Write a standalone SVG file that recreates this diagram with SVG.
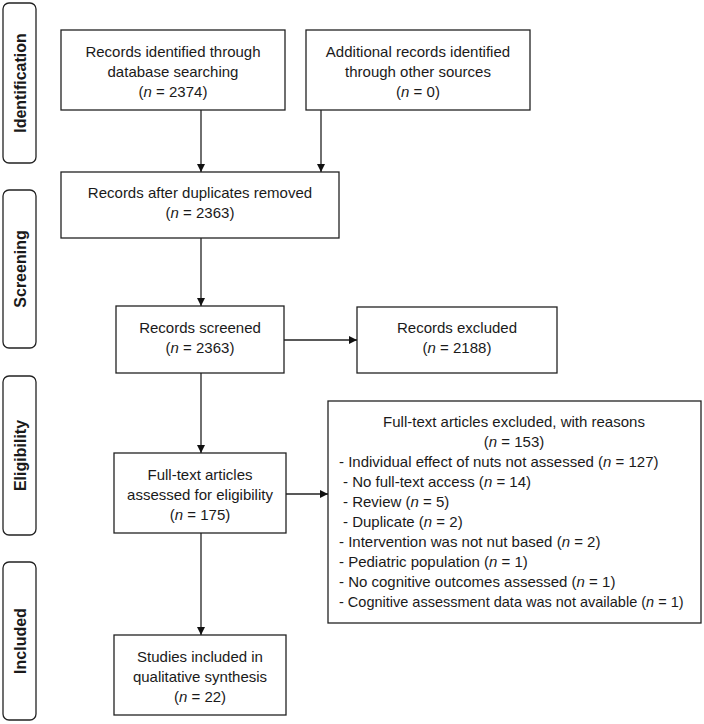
<svg xmlns="http://www.w3.org/2000/svg" width="704" height="724" viewBox="0 0 704 724">
<defs>
<style>
.box{fill:#fff;stroke:#222;stroke-width:1.3}
.lab{fill:#fff;stroke:#222;stroke-width:1.3}
.t{font-family:"Liberation Sans",Arial,sans-serif;font-size:15px;fill:#1a1a1a;text-anchor:middle}
.l{font-family:"Liberation Sans",Arial,sans-serif;font-size:15px;fill:#1a1a1a;text-anchor:start}
.s{font-family:"Liberation Sans",Arial,sans-serif;font-size:16px;font-weight:bold;fill:#1a1a1a;text-anchor:middle}
.c{stroke:#222;stroke-width:1.3;fill:none;marker-end:url(#ah)}
</style>
<marker id="ah" viewBox="0 0 10 10" refX="10" refY="5" markerWidth="8" markerHeight="8" markerUnits="userSpaceOnUse" orient="auto">
<path d="M0,0 L10,5 L0,10 z" fill="#111"/>
</marker>
</defs>
<rect width="704" height="724" fill="#fff"/>

<g id="stage-identification">
<rect class="lab" x="3" y="3" width="33" height="160" rx="6"/>
<text class="s" transform="translate(25.5,83) rotate(-90)">Identification</text>
</g>
<g id="stage-screening">
<rect class="lab" x="3" y="190" width="33" height="158" rx="6"/>
<text class="s" transform="translate(25.5,269) rotate(-90)">Screening</text>
</g>
<g id="stage-eligibility">
<rect class="lab" x="3" y="376" width="33" height="159" rx="6"/>
<text class="s" transform="translate(25.5,455.5) rotate(-90)">Eligibility</text>
</g>
<g id="stage-included">
<rect class="lab" x="3" y="562" width="33" height="158" rx="6"/>
<text class="s" transform="translate(25.5,641) rotate(-90)">Included</text>
</g>

<g id="n-database">
<rect class="box" x="61" y="30" width="224" height="80"/>
<text class="t" x="173" y="57">Records identified through</text>
<text class="t" x="173" y="77">database searching</text>
<text class="t" x="173" y="97">(<tspan font-style="italic">n</tspan> = 2374)</text>
</g>
<g id="n-other">
<rect class="box" x="306" y="30" width="224" height="80"/>
<text class="t" x="418" y="57">Additional records identified</text>
<text class="t" x="418" y="77">through other sources</text>
<text class="t" x="418" y="97">(<tspan font-style="italic">n</tspan> = 0)</text>
</g>
<g id="n-dedup">
<rect class="box" x="61" y="172" width="278" height="66"/>
<text class="t" x="200" y="198">Records after duplicates removed</text>
<text class="t" x="200" y="218">(<tspan font-style="italic">n</tspan> = 2363)</text>
</g>
<g id="n-screened">
<rect class="box" x="116" y="306" width="168" height="67"/>
<text class="t" x="200" y="333">Records screened</text>
<text class="t" x="200" y="353">(<tspan font-style="italic">n</tspan> = 2363)</text>
</g>
<g id="n-excluded">
<rect class="box" x="357" y="307" width="200" height="66"/>
<text class="t" x="457" y="333">Records excluded</text>
<text class="t" x="457" y="353">(<tspan font-style="italic">n</tspan> = 2188)</text>
</g>
<g id="n-fulltext">
<rect class="box" x="114" y="453" width="172" height="80"/>
<text class="t" x="200" y="480">Full-text articles</text>
<text class="t" x="200" y="500">assessed for eligibility</text>
<text class="t" x="200" y="520">(<tspan font-style="italic">n</tspan> = 175)</text>
</g>
<g id="n-ftexcluded">
<rect class="box" x="328" y="401" width="373" height="222"/>
<text class="t" x="514" y="427">Full-text articles excluded, with reasons</text>
<text class="t" x="514" y="447">(<tspan font-style="italic">n</tspan> = 153)</text>
<text class="l" x="339" y="467">- Individual effect of nuts not assessed (<tspan font-style="italic">n</tspan> = 127)</text>
<text class="l" x="343" y="487">- No full-text access (<tspan font-style="italic">n</tspan> = 14)</text>
<text class="l" x="343" y="507">- Review (<tspan font-style="italic">n</tspan> = 5)</text>
<text class="l" x="343" y="527">- Duplicate  (<tspan font-style="italic">n</tspan> = 2)</text>
<text class="l" x="339" y="547">- Intervention was not nut  based (<tspan font-style="italic">n</tspan> = 2)</text>
<text class="l" x="339" y="567">- Pediatric population (<tspan font-style="italic">n</tspan> = 1)</text>
<text class="l" x="339" y="587">- No cognitive  outcomes assessed (<tspan font-style="italic">n</tspan> = 1)</text>
<text class="l" x="339" y="607" style="font-size:14.5px">- Cognitive assessment data was not available  (<tspan font-style="italic">n</tspan> = 1)</text>
</g>
<g id="n-included">
<rect class="box" x="114" y="635" width="172" height="80"/>
<text class="t" x="200" y="662">Studies included in</text>
<text class="t" x="200" y="682">qualitative synthesis</text>
<text class="t" x="200" y="702">(<tspan font-style="italic">n</tspan> = 22)</text>
</g>

<g id="connectors">
<line class="c" x1="201" y1="110" x2="201" y2="172"/>
<line class="c" x1="321" y1="110" x2="321" y2="172"/>
<line class="c" x1="201" y1="238" x2="201" y2="306"/>
<line class="c" x1="284" y1="340" x2="357" y2="340"/>
<line class="c" x1="201" y1="373" x2="201" y2="453"/>
<line class="c" x1="286" y1="494" x2="328" y2="494"/>
<line class="c" x1="201" y1="533" x2="201" y2="635"/>
</g>
</svg>
